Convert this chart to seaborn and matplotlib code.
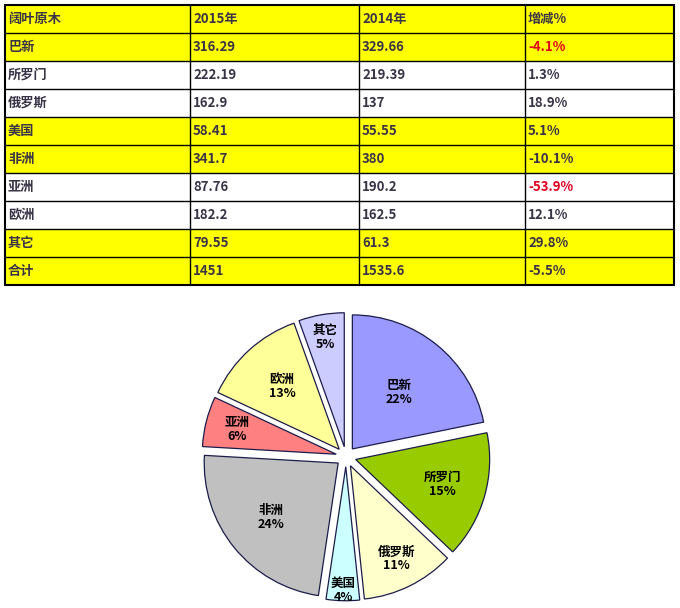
import numpy as np
import pandas as pd
import matplotlib
matplotlib.use("Agg")
import matplotlib.pyplot as plt
from matplotlib.patches import Rectangle
import seaborn as sns

# style first, then the CJK font list (set_theme resets font.family)
sns.set_theme(style="white")
plt.rcParams['font.family'] = ['Noto Sans CJK SC', 'DejaVu Sans']

# data
header = ['阔叶原木', '2015年', '2014年', '增减%']
regions = ['巴新', '所罗门', '俄罗斯', '美国', '非洲', '亚洲', '欧洲', '其它']
vol_2015 = [316.29, 222.19, 162.9, 58.41, 341.7, 87.76, 182.2, 79.55]
vol_2014 = [329.66, 219.39, 137, 55.55, 380, 190.2, 162.5, 61.3]
change = ['-4.1%', '1.3%', '18.9%', '5.1%', '-10.1%', '-53.9%', '12.1%', '29.8%']
total_label = '合计'
total_change = '-5.5%'
red_cells = ['-4.1%', '-53.9%']

# table rows
df = pd.DataFrame({'name': regions, 'y2015': vol_2015, 'y2014': vol_2014, 'chg': change})
rows = [header]
for _, r in df.iterrows():
    rows.append([r['name'], f"{r['y2015']:g}", f"{r['y2014']:g}", r['chg']])
rows.append([total_label, f"{df['y2015'].sum():g}", f"{df['y2014'].sum():g}", total_change])

# styles
row_colors = ['#FFFF00', '#FFFF00', 'white', 'white', '#FFFF00', '#FFFF00',
              'white', 'white', '#FFFF00', '#FFFF00']
pie_colors = ['#9999FF', '#99CC00', '#FFFFCC', '#CCFFFF', '#C0C0C0',
              '#FF8080', '#FFFF99', '#CCCCFF']
label_dist = [0.62, 0.75, 0.85, 1.0, 0.72, 0.84, 0.71, 0.9]
text_color = '#3a3448'

fig = plt.figure(figsize=(6.8, 6.08), dpi=100)

# table drawn in pixel units
tab = fig.add_axes([0, 0, 1, 1])
tab.set_xlim(0, 680)
tab.set_ylim(608, 0)
tab.axis('off')

col_x = [5, 190, 359, 525, 674]
row_top, row_h = 5, 28
for i, row in enumerate(rows):
    y0 = row_top + i * row_h
    tab.add_patch(Rectangle((col_x[0], y0), col_x[-1] - col_x[0], row_h,
                            facecolor=row_colors[i], edgecolor='none'))
    for j, txt in enumerate(row):
        tab.text(col_x[j] + 3, y0 + row_h / 2, txt, ha='left', va='center',
                 fontsize=9.5, fontweight='bold',
                 color='#E00020' if txt in red_cells else text_color)
n_rows = len(rows)
for i in range(n_rows + 1):
    y = row_top + i * row_h
    tab.plot([col_x[0], col_x[-1]], [y, y], color='black',
             lw=1.5 if i in (0, n_rows) else 1.0)
for j, x in enumerate(col_x):
    tab.plot([x, x], [row_top, row_top + n_rows * row_h], color='black',
             lw=1.5 if j in (0, len(col_x) - 1) else 1.0)

# pie, centre (346, 456.7) px, radius 134 px
cx, cy, rad, half = 346, 456.7, 134, 160
pie_ax = fig.add_axes([(cx - half) / 680, (608 - cy - half) / 608, 2 * half / 680, 2 * half / 608])

wedges, _ = pie_ax.pie(vol_2015, colors=pie_colors, startangle=90, counterclock=False,
                       explode=[0.075] * len(vol_2015), radius=1,
                       wedgeprops=dict(edgecolor='#1c1c4a', linewidth=0.9))
# pie() sets its own limits, so fix them afterwards
lim = half / rad
pie_ax.set_xlim(-lim, lim)
pie_ax.set_ylim(-lim, lim)
pie_ax.set_aspect('equal')
pie_ax.axis('off')

total = sum(vol_2015)
for w, name, v, d in zip(wedges, regions, vol_2015, label_dist):
    ang = np.deg2rad((w.theta1 + w.theta2) / 2)
    pct = v / total * 100
    pie_ax.text(d * np.cos(ang), d * np.sin(ang), f"{name}\n{pct:.0f}%",
                ha='center', va='center', fontsize=9, fontweight='bold',
                color='black', linespacing=1.1)

fig.savefig('out.png', dpi=100)
